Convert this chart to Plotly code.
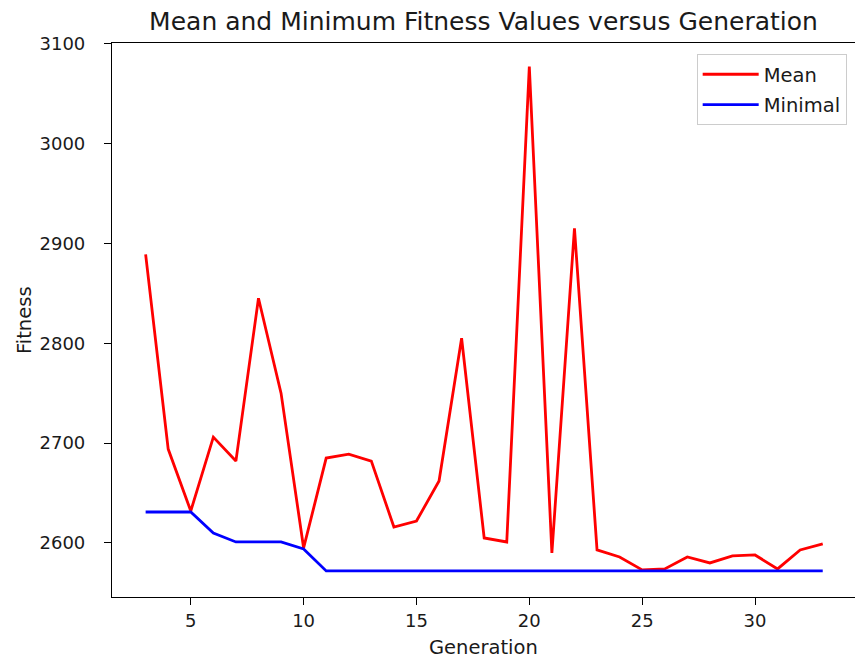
import plotly.graph_objects as go

generation = list(range(3, 34))
mean_fitness = [2889, 2694, 2632, 2706, 2682, 2845, 2750, 2595, 2685, 2689,
                2682, 2616, 2622, 2662, 2805, 2605, 2601, 3077, 2590, 2915,
                2593, 2586, 2573, 2574, 2586, 2580, 2587, 2588, 2574, 2593, 2599]
min_fitness = [2631, 2631, 2631, 2610, 2601, 2601, 2601, 2594, 2572, 2572,
               2572, 2572, 2572, 2572, 2572, 2572, 2572, 2572, 2572, 2572,
               2572, 2572, 2572, 2572, 2572, 2572, 2572, 2572, 2572, 2572, 2572]
x_ticks = [5, 10, 15, 20, 25, 30]
y_ticks = [2600, 2700, 2800, 2900, 3000, 3100]

FONT = "DejaVu Sans"
TXT = "#1a1a1a"
L, R, T, B = 112, 0, 43, 61
W, H = 855, 658

fig = go.Figure()
fig.add_trace(go.Scatter(x=generation, y=mean_fitness, mode="lines", name="Mean",
                         legendgroup="a",
                         line=dict(color="#ff0000", width=2.8)))
fig.add_trace(go.Scatter(x=generation, y=min_fitness, mode="lines", name="Minimal",
                         legendgroup="b",
                         line=dict(color="#0000ff", width=2.8)))

fig.update_layout(
    width=W, height=H,
    margin=dict(l=L, r=R, t=T, b=B),
    paper_bgcolor="white", plot_bgcolor="white",
    font=dict(family=FONT, size=18, color=TXT),
    title=dict(text="Mean and Minimum Fitness Values versus Generation",
               x=0.5, xref="paper", y=1 - 21 / H, yref="container",
               xanchor="center", yanchor="middle",
               font=dict(family=FONT, size=25, color=TXT)),
    showlegend=True,
    legend=dict(x=0.9888, y=0.98, xanchor="right", yanchor="top",
                bgcolor="rgba(255,255,255,0.8)", bordercolor="#cccccc", borderwidth=1,
                font=dict(family=FONT, size=19.5, color=TXT),
                traceorder="grouped", tracegroupgap=2, itemwidth=56),
    annotations=[
        dict(text="Generation", xref="paper", yref="paper", x=0.5,
             y=-(647 - (H - B)) / (H - T - B), xanchor="center", yanchor="middle",
             showarrow=False, font=dict(family=FONT, size=19.5, color=TXT)),
        dict(text="Fitness", xref="paper", yref="paper",
             x=-(L - 24) / (W - L - R), y=0.5, xanchor="center", yanchor="middle",
             textangle=-90, showarrow=False,
             font=dict(family=FONT, size=19.5, color=TXT)),
    ],
)

fig.update_xaxes(range=[1.51, 34.43], tickmode="array", tickvals=x_ticks,
                 showgrid=False, zeroline=False, automargin=False,
                 showline=True, linecolor="black", linewidth=1.2, mirror=True,
                 ticks="outside", ticklen=7, tickwidth=1.2, tickcolor="black",
                 ticklabelstandoff=0)
fig.update_yaxes(range=[2545.9, 3100.6], tickmode="array", tickvals=y_ticks,
                 showgrid=False, zeroline=False, automargin=False,
                 showline=True, linecolor="black", linewidth=1.2, mirror=False,
                 ticks="outside", ticklen=7, tickwidth=1.2, tickcolor="black",
                 ticklabelstandoff=15)

fig.write_html("out.html",
               config={"displayModeBar": False},
               post_script="document.body.style.margin='0';"
                           "document.body.style.overflow='hidden';")
